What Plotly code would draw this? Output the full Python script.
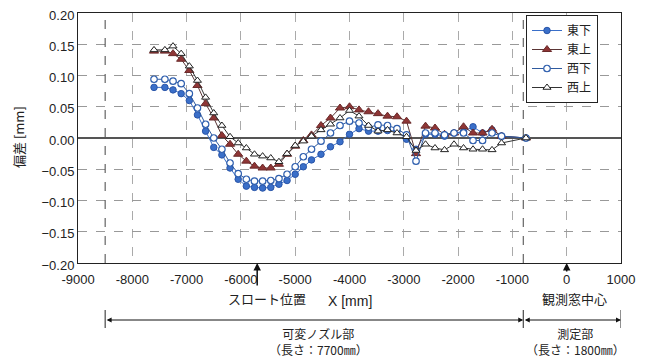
import plotly.graph_objects as go

x_mm = [-7600, -7400, -7250, -7100, -6950, -6800, -6650, -6500, -6350, -6200,
        -6050, -5900, -5750, -5600, -5450, -5300, -5150, -5000, -4850, -4700,
        -4525, -4350, -4175, -4000, -3825, -3650, -3475, -3300, -3125, -2950,
        -2775, -2600, -2425, -2250, -2075, -1900, -1725, -1550, -1375, -1200, -750]

east_lower = [0.081, 0.081, 0.077, 0.071, 0.060, 0.037, 0.011, -0.015, -0.027, -0.048,
              -0.066, -0.077, -0.079, -0.080, -0.079, -0.074, -0.068, -0.058, -0.046, -0.035,
              -0.026, -0.014, -0.006, 0.006, 0.015, 0.011, 0.011, 0.012, 0.011, -0.002,
              -0.018, 0.006, 0.006, 0.003, 0.008, 0.010, 0.018, 0.008, 0.013, 0.003, 0.0]

east_upper = [0.139, 0.139, 0.135, 0.126, 0.108, 0.084, 0.055, 0.032, 0.004, -0.010,
              -0.026, -0.037, -0.045, -0.048, -0.048, -0.042, -0.026, -0.013, -0.004, 0.005,
              0.020, 0.032, 0.048, 0.050, 0.045, 0.042, 0.039, 0.035, 0.034, 0.027,
              -0.025, 0.019, 0.016, 0.006, 0.008, 0.018, 0.008, 0.008, 0.014, 0.003, 0.0]

west_lower = [0.094, 0.094, 0.091, 0.087, 0.071, 0.048, 0.022, 0.000, -0.018, -0.040,
              -0.057, -0.066, -0.069, -0.069, -0.068, -0.065, -0.058, -0.046, -0.030, -0.018,
              -0.005, 0.008, 0.020, 0.027, 0.024, 0.017, 0.021, 0.020, 0.015, 0.005,
              -0.037, 0.008, 0.008, 0.005, 0.008, 0.008, -0.004, -0.004, 0.008, 0.003, 0.0]

west_upper = [0.141, 0.141, 0.147, 0.135, 0.115, 0.092, 0.065, 0.040, 0.020, 0.002,
              -0.008, -0.016, -0.026, -0.029, -0.032, -0.038, -0.025, -0.012, -0.005, 0.003,
              0.013, 0.022, 0.032, 0.044, 0.035, 0.020, 0.011, 0.013, 0.008, 0.002,
              -0.020, -0.010, -0.016, -0.019, -0.010, -0.016, -0.018, -0.018, -0.019, -0.008, 0.0]

series_names = ["東下", "東上", "西下", "西上"]
x_ticks = list(range(-9000, 1001, 1000))
y_ticks = [-0.20, -0.15, -0.10, -0.05, 0.00, 0.05, 0.10, 0.15, 0.20]
nozzle_start, measure_start, measure_end = -8500, -800, 1000
throat_x, window_x = -5700, 0

# layout geometry in screen pixels; the page body adds an 8px offset
OFF = 8
L, R, T, B = 78, 621, 13, 263
W, H = 645 - OFF, 359 - OFF


def px2x(px):
    return (px - L) / (R - L)


def py2y(py):
    return (B - py) / (B - T)


fig = go.Figure()
fig.add_trace(go.Scatter(x=x_mm, y=east_lower, name=series_names[0], mode="lines+markers",
                         line=dict(color="#3a6fc9", width=1),
                         marker=dict(symbol="circle", size=6.5, color="#3a6fc9",
                                     line=dict(color="#2a55a8", width=1))))
fig.add_trace(go.Scatter(x=x_mm, y=east_upper, name=series_names[1], mode="lines+markers",
                         line=dict(color="#5a3535", width=1),
                         marker=dict(symbol="triangle-up", size=8, color="#8e3535",
                                     line=dict(color="#6a2a2a", width=1))))
fig.add_trace(go.Scatter(x=x_mm, y=west_lower, name=series_names[2], mode="lines+markers",
                         line=dict(color="#2f5a9e", width=1),
                         marker=dict(symbol="circle", size=6.5, color="white",
                                     line=dict(color="#2f5fae", width=1.2))))
fig.add_trace(go.Scatter(x=x_mm, y=west_upper, name=series_names[3], mode="lines+markers",
                         line=dict(color="#333333", width=1),
                         marker=dict(symbol="triangle-up", size=7, color="white",
                                     line=dict(color="#222222", width=1))))

shapes = []
for xv in (nozzle_start, measure_start):
    shapes.append(dict(type="line", xref="x", yref="paper", x0=xv, x1=xv, y0=0, y1=1,
                       line=dict(color="#444444", width=1, dash="dash")))
for xv in (nozzle_start, measure_start, measure_end):
    shapes.append(dict(type="line", xref="x", yref="paper", x0=xv, x1=xv,
                       y0=py2y(310), y1=py2y(328), line=dict(color="#222", width=1)))

text_font = dict(family="Noto Sans CJK JP", size=13, color="#222")
small_font = dict(family="Noto Sans CJK JP", size=12, color="#222")


def label(px, py, text, font, **kw):
    return dict(x=px2x(px), y=py2y(py), xref="paper", yref="paper", text=text,
                showarrow=False, font=font, xanchor="center", yanchor="middle", **kw)


annotations = [
    dict(x=throat_x, y=0, xref="x", yref="paper", ax=0, ay=24, text="", showarrow=True,
         arrowhead=2, arrowsize=1, arrowwidth=1.5, arrowcolor="#111"),
    dict(x=window_x, y=0, xref="x", yref="paper", ax=0, ay=10, text="", showarrow=True,
         arrowhead=2, arrowsize=1, arrowwidth=1.5, arrowcolor="#111"),
    dict(x=measure_start, y=py2y(320), xref="x", yref="paper", ax=nozzle_start, ay=0,
         axref="x", ayref="pixel", text="", showarrow=True, arrowhead=2, arrowside="end+start",
         arrowsize=1, arrowwidth=1, arrowcolor="#111"),
    dict(x=measure_end, y=py2y(320), xref="x", yref="paper", ax=measure_start, ay=0,
         axref="x", ayref="pixel", text="", showarrow=True, arrowhead=2, arrowside="end+start",
         arrowsize=1, arrowwidth=1, arrowcolor="#111"),
    label(18, 137, "偏差 [mm]", text_font, textangle=-90),
    label(267, 298, "スロート位置", text_font),
    label(350, 301, "X [mm]", dict(family="Liberation Sans", size=14, color="#222")),
    label(574, 298, "観測窓中心", text_font),
    label(318, 341, "可変ノズル部<br>（長さ：7700㎜）", small_font),
    label(575, 341, "測定部<br>（長さ：1800㎜）", small_font),
]

fig.update_layout(
    width=W, height=H,
    margin=dict(l=L - OFF, r=645 - R, t=T - OFF, b=359 - B, autoexpand=False),
    paper_bgcolor="white", plot_bgcolor="white",
    font=dict(family="Liberation Sans", size=13, color="#222"),
    showlegend=True,
    legend=dict(x=px2x(526), y=py2y(15), xanchor="left", yanchor="top",
                bgcolor="white", bordercolor="#222", borderwidth=1,
                font=dict(family="Noto Sans CJK JP", size=12), tracegroupgap=0,
                itemwidth=30),
    shapes=shapes,
    annotations=annotations,
    xaxis=dict(range=[-9000, 1000], tickvals=x_ticks, ticktext=[str(v) for v in x_ticks],
               showgrid=True, gridcolor="#aaaaaa", griddash="dash", gridwidth=1,
               showline=True, linecolor="#222", linewidth=1, mirror=True,
               zeroline=False, ticks="", tickfont=dict(size=13), automargin=False,
               ticklabeloverflow="allow", ticklabelstandoff=4),
    yaxis=dict(range=[-0.20, 0.20], tickvals=y_ticks, tickformat=".2f",
               showgrid=True, gridcolor="#999999", griddash="dash", gridwidth=1,
               showline=True, linecolor="#222", linewidth=1, mirror=True,
               zeroline=True, zerolinecolor="#555555", zerolinewidth=1.5,
               ticks="", tickfont=dict(size=13), automargin=False,
               ticklabeloverflow="allow", ticklabelshift=2),
)

fig.write_html("out.html")
